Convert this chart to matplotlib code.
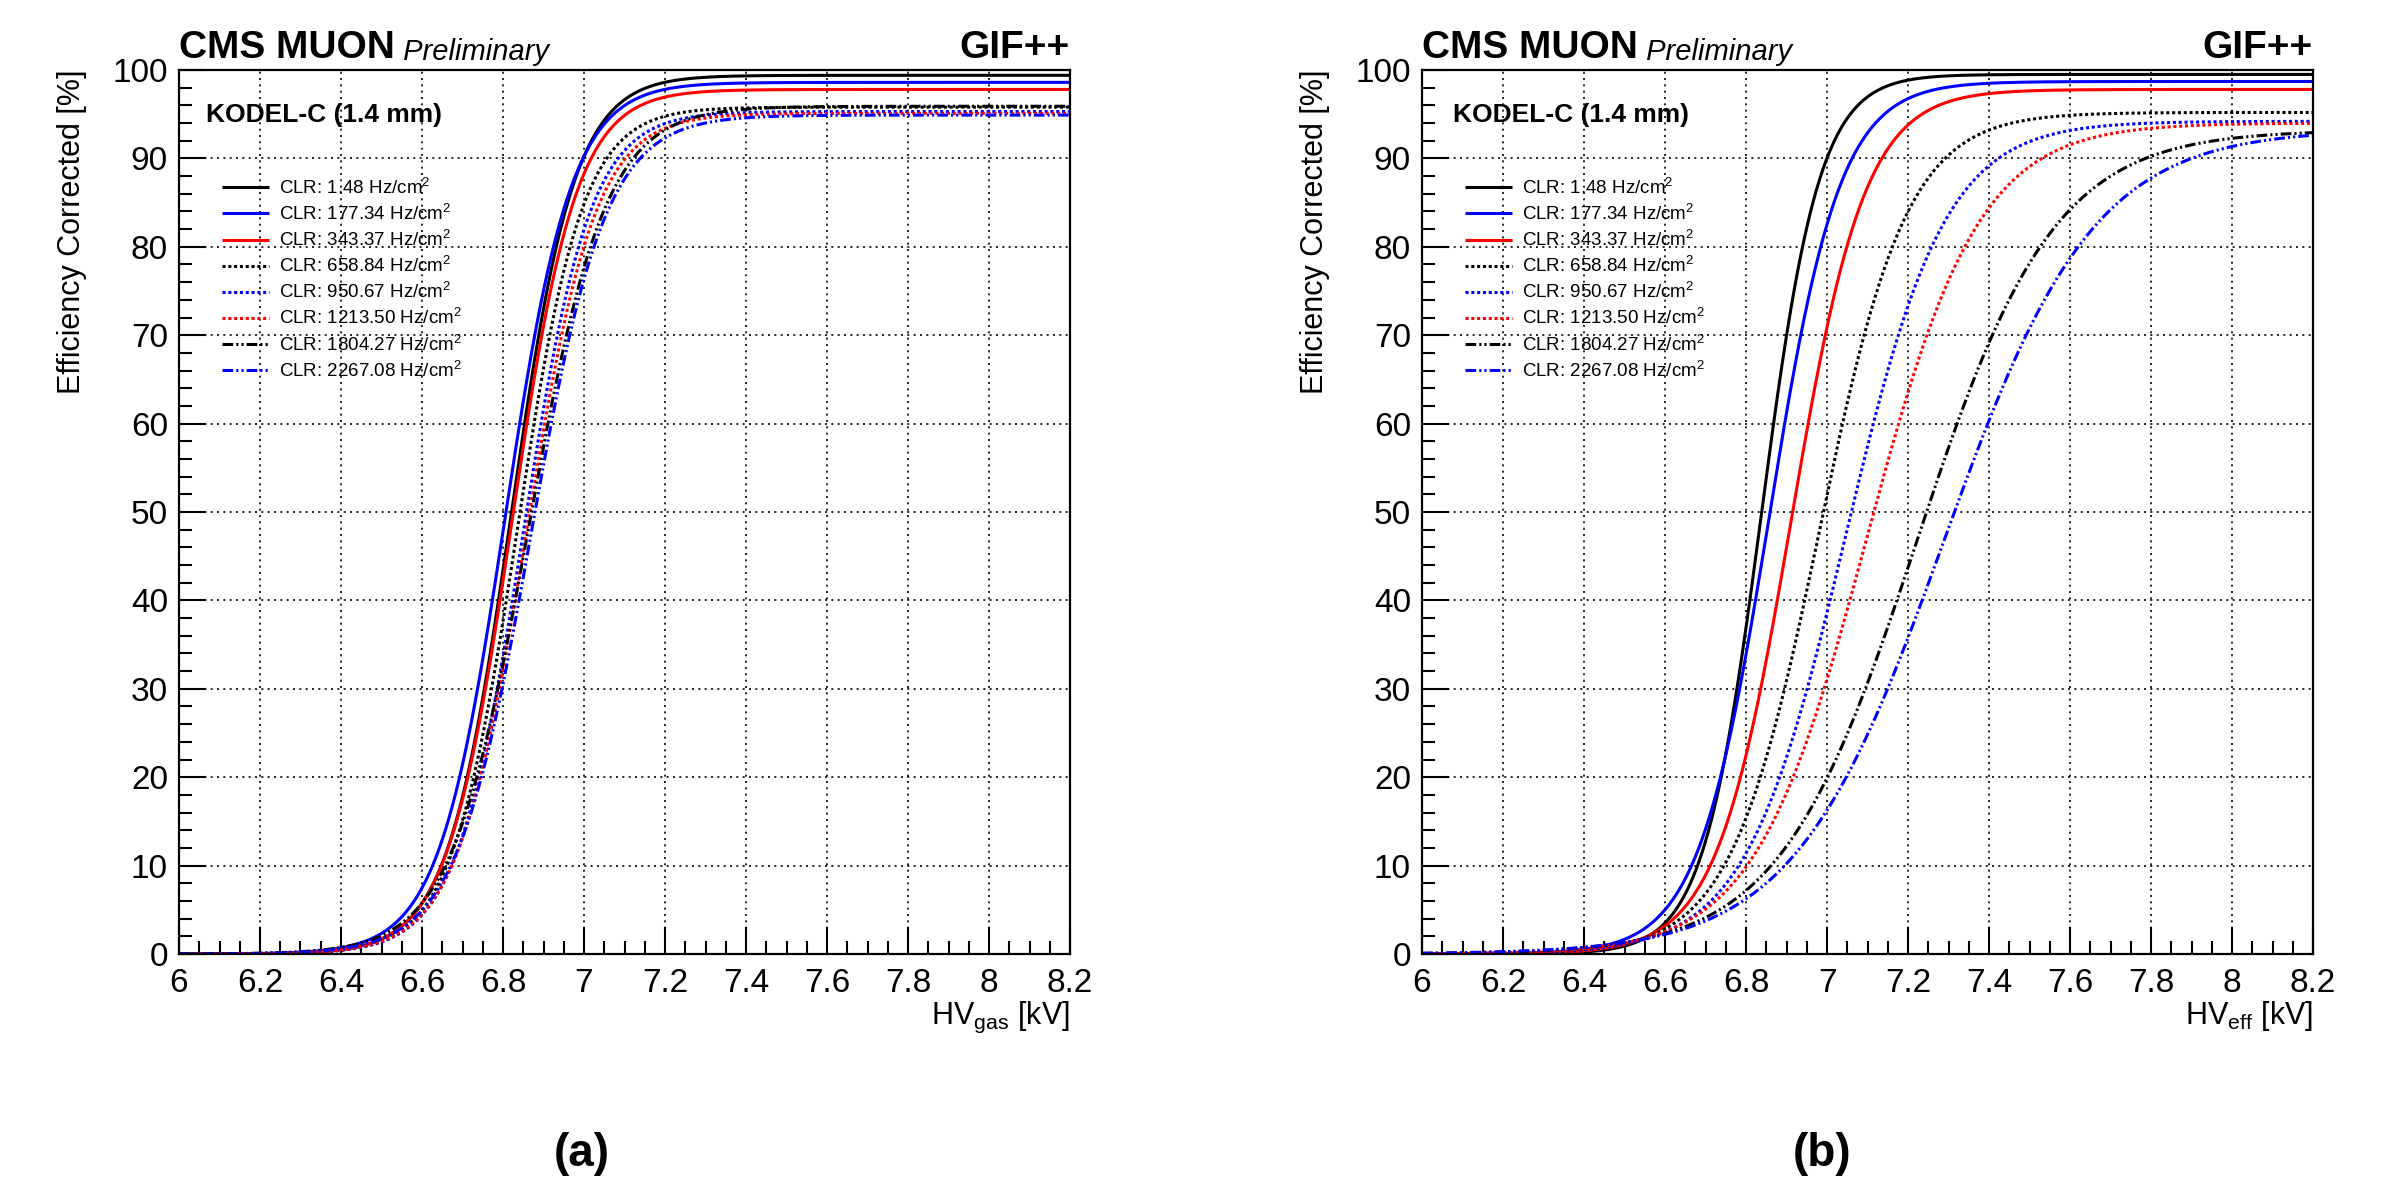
import numpy as np
import matplotlib
matplotlib.use("Agg")
import matplotlib.pyplot as plt
from matplotlib.ticker import MultipleLocator, FormatStrFormatter

plt.rcParams['font.family'] = ['Liberation Sans', 'DejaVu Sans']
plt.rcParams['mathtext.default'] = 'regular'

# ---- data: sigmoid fit parameters ----
rates = ["1.48", "177.34", "343.37", "658.84", "950.67", "1213.50", "1804.27", "2267.08"]

# panel (a): HV_gas
plateau_gas = [99.4, 98.6, 97.8, 95.8, 95.3, 95.1, 95.9, 94.9]
slope_gas = [12.7, 12.2, 12.5, 12.4, 12.1, 11.7, 10.5, 10.8]
hv50_gas = [6.820, 6.805, 6.822, 6.835, 6.850, 6.857, 6.862, 6.869]

# panel (b): HV_eff
plateau_eff = [99.5, 98.7, 97.8, 95.2, 94.2, 94.0, 93.2, 93.3]
slope_eff = [13.9, 11.4, 10.9, 9.15, 8.1, 7.2, 5.9, 5.4]
hv50_eff = [6.838, 6.857, 6.911, 6.980, 7.045, 7.098, 7.221, 7.288]

hv_range = (6.0, 8.2)

colors = ["black", "blue", "red", "black", "blue", "red", "black", "blue"]
kinds = ["solid", "solid", "solid", "dot", "dot", "dot", "dashdotdot", "dashdotdot"]

STYLE = {
    "solid": "-",
    "dot": (0, (1.0, 0.9)),
    "dashdotdot": (0, (3.5, 1.0, 0.7, 1.0, 0.7, 1.0)),
}


def sigmoid(v, emax, lam, v50):
    return emax / (1.0 + np.exp(-lam * (v - v50)))


W, H = 2389, 1179
fig = plt.figure(figsize=(W / 100, H / 100), dpi=100)

ax_l = 179 / W
ax_r = 1422 / W
ax_b = 1 - 954 / H
ax_w = 891 / W
ax_h = 884 / H

panels = [
    (ax_l, plateau_gas, slope_gas, hv50_gas, "HV$_{gas}$ [kV]", "(a)", 0.030),
    (ax_r, plateau_eff, slope_eff, hv50_eff, "HV$_{eff}$ [kV]", "(b)", 0.035),
]

for left, plat, lam, v50, xlab, tag, kx in panels:
    ax = fig.add_axes([left, ax_b, ax_w, ax_h])
    v = np.linspace(hv_range[0], hv_range[1], 1200)
    for i in range(len(rates)):
        ax.plot(v, sigmoid(v, plat[i], lam[i], v50[i]), color=colors[i],
                linestyle=STYLE[kinds[i]], linewidth=2.2, solid_capstyle='butt',
                dash_capstyle='butt',
                label="CLR: %s Hz/cm$^{2}$" % rates[i])
    ax.set_xlim(*hv_range)
    ax.set_ylim(0, 100)
    ax.xaxis.set_major_locator(MultipleLocator(0.2))
    ax.xaxis.set_minor_locator(MultipleLocator(0.05))
    ax.yaxis.set_major_locator(MultipleLocator(10))
    ax.yaxis.set_minor_locator(MultipleLocator(2))
    ax.xaxis.set_major_formatter(FormatStrFormatter('%g'))
    ax.yaxis.set_major_formatter(FormatStrFormatter('%g'))
    ax.grid(True, which='major', color='black', linestyle=(0, (1.2, 2.6)), linewidth=1.2)
    ax.tick_params(which='both', direction='in', top=False, right=False,
                   width=1.5, labelsize=24, color='black')
    ax.tick_params(which='major', length=19.5)
    ax.tick_params(which='minor', length=9.5)
    ax.tick_params(axis='y', pad=8)
    ax.tick_params(axis='x', pad=10)
    for sp in ax.spines.values():
        sp.set_linewidth(1.6)

    leg = ax.legend(loc='upper left', bbox_to_anchor=(0.048, 0.878), frameon=False,
                    fontsize=13.5, handlelength=2.5, handletextpad=0.55,
                    labelspacing=0.32, borderpad=0, borderaxespad=0)

    ax.text(kx, 0.9415, "KODEL-C (1.4 mm)", transform=ax.transAxes,
            fontsize=19, fontweight='bold', va='baseline', ha='left')

    t1 = ax.text(0.0, 1.0136, "CMS MUON", transform=ax.transAxes,
                 fontsize=28, fontweight='bold', va='baseline', ha='left')
    ax.annotate(" Preliminary", xy=(1, 0), xycoords=t1, fontsize=21,
                fontstyle='italic', va='bottom', ha='left')
    ax.text(1.0, 1.0136, "GIF++", transform=ax.transAxes,
            fontsize=28, fontweight='bold', va='baseline', ha='right')

    ax.text(1.0, -0.079, xlab, transform=ax.transAxes, fontsize=22,
            ha='right', va='baseline')
    ax.text(-0.120, 1.0, "Efficiency Corrected [%]", transform=ax.transAxes,
            fontsize=22, rotation=90, ha='center', va='top')

    cx = left + ax_w * (0.4517 if tag == "(a)" else 0.4495)
    fig.text(cx, 3 / H, tag, fontsize=33, fontweight='bold',
             ha='center', va='bottom')

fig.savefig("out.png", dpi=100)
